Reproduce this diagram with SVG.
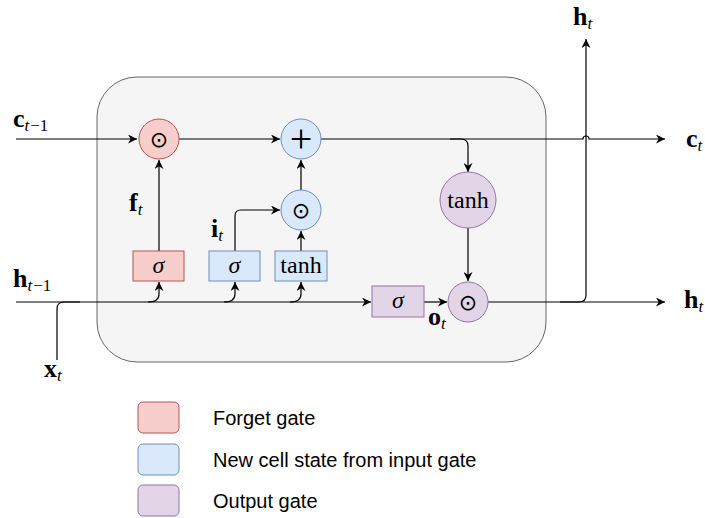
<svg xmlns="http://www.w3.org/2000/svg" width="705" height="518" viewBox="0 0 705 518">
<defs>
<marker id="arr" viewBox="0 0 10 10" refX="10" refY="5" markerWidth="9" markerHeight="9" markerUnits="userSpaceOnUse" orient="auto">
<path d="M0,0 L10,5 L0,10 L3,5 z" fill="#000"/>
</marker>
<style>
.ln{fill:none;stroke:#000;stroke-width:1.2}
.red{fill:#f8cecc;stroke:#b85450;stroke-width:1}
.blue{fill:#dae8fc;stroke:#6c8ebf;stroke-width:1}
.purp{fill:#e1d5e7;stroke:#9673a6;stroke-width:1}
.m{font-family:"Liberation Serif","DejaVu Serif",serif;fill:#000}
.b{font-weight:bold;font-size:26px}
.s{font-size:17px}
.it{font-style:italic}
.op{font-family:"DejaVu Sans",sans-serif;fill:#000;text-anchor:middle;font-size:22px}
.lg{font-family:"Liberation Sans",Arial,sans-serif;font-size:20px;fill:#000}
.g{font-size:24px;text-anchor:middle}
</style>
</defs>
<rect id="cell" x="97" y="77" width="449" height="285" rx="40" ry="40" fill="#f5f5f5" stroke="#666" stroke-width="1"/>
<g id="connectors">
<path class="ln" d="M16,139 H137" marker-end="url(#arr)"/>
<path class="ln" d="M179,139 H280" marker-end="url(#arr)"/>
<path class="ln" d="M321,139 H583 A3,3 0 0 1 589,139 H665" marker-end="url(#arr)"/>
<path class="ln" d="M450,139 H461 Q468,139 468,146 V172" marker-end="url(#arr)"/>
<path class="ln" d="M468,228 V281" marker-end="url(#arr)"/>
<path class="ln" d="M488,302 H665" marker-end="url(#arr)"/>
<path class="ln" d="M560,302 H579 Q586,302 586,295 V39" marker-end="url(#arr)"/>
<path class="ln" d="M16,302 H371" marker-end="url(#arr)"/>
<path class="ln" d="M424,302 H447" marker-end="url(#arr)"/>
<path class="ln" d="M57,360 V309 Q57,302 64,302 H80"/>
<path class="ln" d="M148,302 Q159,302 159,294 V282" marker-end="url(#arr)"/>
<path class="ln" d="M224,302 Q235,302 235,294 V282" marker-end="url(#arr)"/>
<path class="ln" d="M290,302 Q301,302 301,294 V282" marker-end="url(#arr)"/>
<path class="ln" d="M159,251 V160" marker-end="url(#arr)"/>
<path class="ln" d="M235,251 V216 Q235,210 241,210 H280" marker-end="url(#arr)"/>
<path class="ln" d="M301,251 V231" marker-end="url(#arr)"/>
<path class="ln" d="M301,190 V160" marker-end="url(#arr)"/>
</g>
<g id="forget-mult"><circle class="red" cx="159" cy="139" r="20"/><text class="op" x="159" y="147">⊙</text></g>
<g id="plus"><circle class="blue" cx="301" cy="139" r="20"/><text class="m" x="301" y="152" font-size="40" text-anchor="middle">+</text></g>
<g id="input-mult"><circle class="blue" cx="301" cy="210" r="20"/><text class="op" x="301" y="218">⊙</text></g>
<g id="tanh-out"><circle class="purp" cx="468" cy="200" r="28"/><text class="m g" x="468" y="208">tanh</text></g>
<g id="out-mult"><circle class="purp" cx="468" cy="302" r="20"/><text class="op" x="468" y="310">⊙</text></g>
<g id="forget-sigma"><rect class="red" x="133" y="251" width="51" height="30"/><text class="m it g" x="158.5" y="273">σ</text></g>
<g id="input-sigma"><rect class="blue" x="209" y="251" width="51" height="30"/><text class="m it g" x="234.5" y="273">σ</text></g>
<g id="input-tanh"><rect class="blue" x="275" y="251" width="52" height="30"/><text class="m g" x="301" y="273">tanh</text></g>
<g id="out-sigma"><rect class="purp" x="372" y="286" width="52" height="31"/><text class="m it g" x="398" y="308">σ</text></g>
<g id="labels">
<text class="m" x="13" y="127"><tspan class="b">c</tspan><tspan class="s it" dy="4">t</tspan><tspan class="s" dx="1">−1</tspan></text>
<text class="m" x="13" y="287"><tspan class="b">h</tspan><tspan class="s it" dy="4">t</tspan><tspan class="s" dx="1">−1</tspan></text>
<text class="m" x="129" y="211"><tspan class="b">f</tspan><tspan class="s it" dy="4">t</tspan></text>
<text class="m" x="211" y="237"><tspan class="b">i</tspan><tspan class="s it" dy="4">t</tspan></text>
<text class="m" x="44" y="377"><tspan class="b">x</tspan><tspan class="s it" dy="4">t</tspan></text>
<text class="m" x="428" y="325"><tspan class="b">o</tspan><tspan class="s it" dy="4">t</tspan></text>
<text class="m" x="573" y="25"><tspan class="b">h</tspan><tspan class="s it" dy="4">t</tspan></text>
<text class="m" x="686" y="147"><tspan class="b">c</tspan><tspan class="s it" dy="4">t</tspan></text>
<text class="m" x="684" y="308"><tspan class="b">h</tspan><tspan class="s it" dy="4">t</tspan></text>
</g>
<g id="legend">
<rect class="red" x="138" y="402" width="41" height="31" rx="5"/>
<text class="lg" x="213" y="425">Forget gate</text>
<rect class="blue" x="138" y="444" width="41" height="31" rx="5"/>
<text class="lg" x="213" y="467">New cell state from input gate</text>
<rect class="purp" x="138" y="485" width="41" height="31" rx="5"/>
<text class="lg" x="213" y="508">Output gate</text>
</g>
</svg>
